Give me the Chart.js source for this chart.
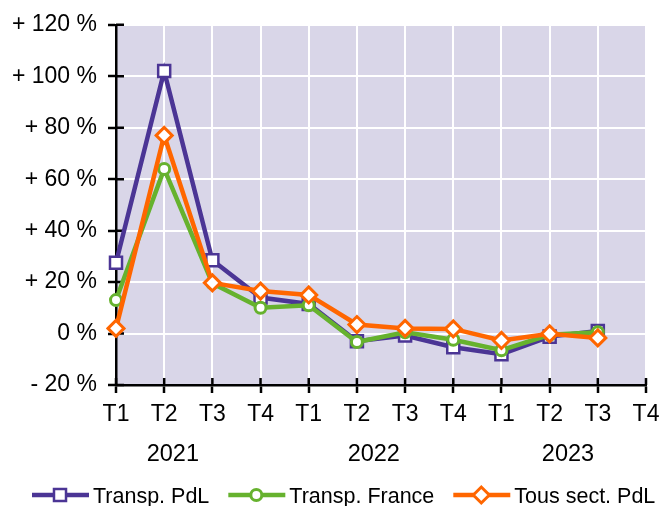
<!DOCTYPE html>
<html><head><meta charset="utf-8">
<script src="https://cdn.jsdelivr.net/npm/chart.js@4/dist/chart.umd.min.js"></script>
<style>html,body{margin:0;padding:0;background:#fff;}</style>
</head><body>
<canvas id="c" width="661" height="506" style="display:block;width:661px;height:506px"></canvas>
<script>
const quarters = ['T1','T2','T3','T4','T1','T2','T3','T4','T1','T2','T3','T4'];
const years = ['2021','2022','2023'];
const seriesNames = ['Transp. PdL','Transp. France','Tous sect. PdL'];
const transpPdL    = [27.5, 102, 28.5, 14, 11.5, -3, -0.8, -5.3, -8, -1.2, 1, null];
const transpFrance = [13, 64, 19.5, 10, 11, -3.3, 0.5, -2.4, -6.5, -0.5, 0.5, null];
const tousSectPdL  = [2, 77, 19.7, 16.5, 15, 3.5, 2, 1.8, -2.7, -0.1, -1.7, null];
const yMin = -20, yMax = 120, yStep = 20;

// layout-only constants
const yearLabelIdx = [1.18, 5.35, 9.38];
const FONT = '"Liberation Sans", Arial, sans-serif';
const PURPLE = '#4b3595', GREEN = '#66b22e', ORANGE = '#ff6600', BG = '#d9d6e8';

const bgPlugin = {
  id: 'bg',
  beforeDraw(chart) {
    const {ctx, chartArea: a} = chart;
    ctx.save(); ctx.fillStyle = BG;
    ctx.fillRect(a.left, a.top, a.right - a.left, a.bottom - a.top);
    ctx.restore();
  },
  beforeDatasetsDraw(chart) {
    const {ctx, chartArea: a, scales} = chart;
    ctx.save(); ctx.strokeStyle = '#000'; ctx.lineWidth = 2.5;
    ctx.beginPath();
    scales.x.ticks.forEach((t, i) => {
      const px = scales.x.getPixelForTick(i);
      ctx.moveTo(px, a.bottom - 7); ctx.lineTo(px, a.bottom);
    });
    scales.y.ticks.forEach((t, i) => {
      const py = scales.y.getPixelForTick(i);
      ctx.moveTo(a.left, py); ctx.lineTo(a.left + 8, py);
    });
    ctx.stroke(); ctx.restore();
  },
  afterDraw(chart) {
    const {ctx, scales} = chart;
    ctx.save();
    ctx.fillStyle = '#000'; ctx.font = '23.5px ' + FONT;
    ctx.textAlign = 'center'; ctx.textBaseline = 'middle';
    years.forEach((y, i) => ctx.fillText(y, scales.x.getPixelForValue(yearLabelIdx[i]), 455));
    // legend
    ctx.font = '21.5px ' + FONT;
    ctx.textAlign = 'left';
    let x = 32; const ly = 495;
    chart.data.datasets.forEach((ds) => {
      ctx.strokeStyle = ds.borderColor; ctx.lineWidth = 4.5;
      ctx.beginPath(); ctx.moveTo(x, ly); ctx.lineTo(x + 57, ly); ctx.stroke();
      ctx.fillStyle = '#fff'; ctx.strokeStyle = ds.borderColor; ctx.lineWidth = ds.pointBorderWidth;
      Chart.helpers.drawPoint(ctx, {pointStyle: ds.pointStyle, radius: ds.pointRadius, rotation: 0, borderWidth: ds.pointBorderWidth}, x + 28, ly);
      ctx.fillStyle = '#000';
      ctx.fillText(ds.label, x + 61, ly + 2);
      x += 61 + ctx.measureText(ds.label).width + 19;
    });
    ctx.restore();
  }
};

new Chart(document.getElementById('c'), {
  type: 'line',
  data: {
    labels: quarters,
    datasets: [
      {label: seriesNames[0], data: transpPdL, borderColor: PURPLE, borderWidth: 4.5, pointStyle: 'rect', pointRadius: 8.5, pointBorderWidth: 2.5, pointBackgroundColor: '#fff', pointBorderColor: PURPLE, order: 3},
      {label: seriesNames[1], data: transpFrance, borderColor: GREEN, borderWidth: 4.5, pointStyle: 'circle', pointRadius: 5.5, pointBorderWidth: 3, pointBackgroundColor: '#fff', pointBorderColor: GREEN, order: 2},
      {label: seriesNames[2], data: tousSectPdL, borderColor: ORANGE, borderWidth: 4.5, pointStyle: 'rectRot', pointRadius: 8, pointBorderWidth: 3, pointBackgroundColor: '#fff', pointBorderColor: ORANGE, order: 1}
    ]
  },
  options: {
    responsive: false, animation: false, devicePixelRatio: 1,
    layout: {padding: {top: 22, right: 15, bottom: 0, left: 0}},
    plugins: {legend: {display: false}, tooltip: {enabled: false}},
    scales: {
      x: {
        offset: false,
        grid: {color: '#fff', lineWidth: 2, tickColor: '#000', tickWidth: 2.5, tickLength: 8},
        border: {color: '#000', width: 2.5},
        ticks: {color: '#000', font: {family: FONT, size: 23}, padding: 8, maxRotation: 0, autoSkip: false},
        afterFit(s) { s.height = 121; s.paddingRight = 0; s.paddingLeft = 0; }
      },
      y: {
        min: yMin, max: yMax,
        grid: {color: '#fff', lineWidth: 2, tickColor: '#000', tickWidth: 2.5, tickLength: 8},
        border: {color: '#000', width: 2.5},
        ticks: {stepSize: yStep, color: '#000', font: {family: FONT, size: 23}, padding: 11,
          callback: v => v > 0 ? '+ ' + v + ' %' : (v < 0 ? '- ' + Math.abs(v) + ' %' : '0 %')},
        afterFit(s) { s.width = 116; }
      }
    }
  },
  plugins: [bgPlugin]
});
</script>
</body></html>
